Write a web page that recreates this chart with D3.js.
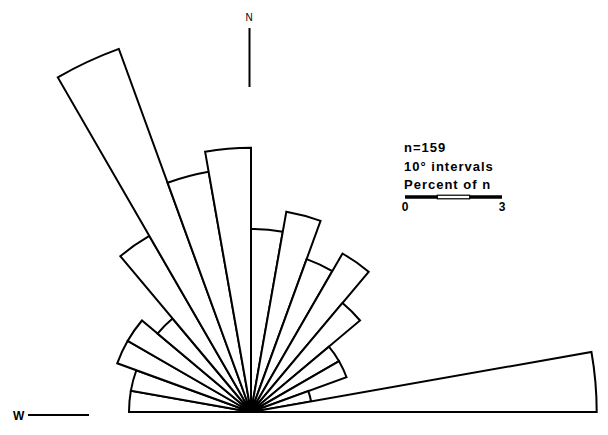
<!DOCTYPE html>
<html>
<head>
<meta charset="utf-8">
<script src="https://cdn.jsdelivr.net/npm/d3@7"></script>
<style>
  html, body { margin: 0; padding: 0; background: #fff; }
  svg { display: block; }
  text { font-family: "Liberation Sans", "DejaVu Sans", sans-serif; fill: #000; }
</style>
</head>
<body>
<svg id="chart" width="608" height="435"></svg>
<script>
// 10-degree azimuth classes, from W (270) clockwise through N to E (90)
const sectorStarts = [270, 280, 290, 300, 310, 320, 330, 340, 350, 0, 10, 20, 30, 40, 50, 60, 70, 80];
// number of observations in each class (total n = 159)
const counts = [6, 6, 7, 7, 6, 10, 19, 12, 13, 9, 10, 8, 9, 7, 5, 5, 3, 17];
const nTotal = 159;
const intervalDeg = 10;
const scaleTicks = [0, 3];          // scale bar labels (percent of n)
const legendLines = ["n=159", "10\u00b0 intervals", "Percent of n"];

const svg = d3.select("#chart");
const cx = 251, cy = 412;
const pxPer3 = 97;

const r = d3.scaleLinear().domain([0, 3]).range([0, pxPer3]);
const toRad = d => d * Math.PI / 180;

const arc = d3.arc()
  .innerRadius(0)
  .outerRadius(d => r(d.count / nTotal * 100))
  .startAngle(d => toRad(d.start > 180 ? d.start - 360 : d.start))
  .endAngle(d => toRad((d.start > 180 ? d.start - 360 : d.start) + intervalDeg));

const data = sectorStarts.map((s, i) => ({ start: s, count: counts[i] }));

const g = svg.append("g").attr("transform", `translate(${cx},${cy})`);
g.selectAll("path.sector")
  .data(data)
  .join("path")
  .attr("class", "sector")
  .attr("d", arc)
  .attr("fill", "#fff")
  .attr("stroke", "#000")
  .attr("stroke-width", 2)
  .attr("stroke-linejoin", "miter");

// North marker
svg.append("line").attr("x1", 249.5).attr("x2", 249.5).attr("y1", 28).attr("y2", 87)
  .attr("stroke", "#000").attr("stroke-width", 2);
svg.append("text").attr("x", 249).attr("y", 21).attr("text-anchor", "middle")
  .attr("font-size", 10).text("N");

// West marker
svg.append("line").attr("x1", 28).attr("x2", 89).attr("y1", 415).attr("y2", 415)
  .attr("stroke", "#000").attr("stroke-width", 2);
svg.append("text").attr("x", 13).attr("y", 419.5)
  .attr("font-size", 12).attr("font-weight", "bold").text("W");

// Legend
const lx = 404;
const lys = [152, 171, 189];
legendLines.forEach((t, i) => {
  svg.append("text").attr("x", lx).attr("y", lys[i])
    .attr("font-size", 13).attr("font-weight", "bold")
    .attr("letter-spacing", 1).text(t);
});

// Scale bar: 0..3 percent with hollow middle segment
const sb = d3.scaleLinear().domain([0, 3]).range([405, 405 + pxPer3]);
const by = 197;
svg.append("line").attr("x1", sb(0)).attr("x2", sb(3)).attr("y1", by).attr("y2", by)
  .attr("stroke", "#000").attr("stroke-width", 3.5);
svg.append("rect").attr("x", sb(1)).attr("y", by - 1.8).attr("width", sb(2) - sb(1)).attr("height", 3.6)
  .attr("fill", "#fff").attr("stroke", "#000").attr("stroke-width", 1.2);
scaleTicks.forEach(t => {
  svg.append("text").attr("x", sb(t)).attr("y", 211).attr("text-anchor", "middle")
    .attr("font-size", 12).attr("font-weight", "bold").text(t);
});
</script>
</body>
</html>
